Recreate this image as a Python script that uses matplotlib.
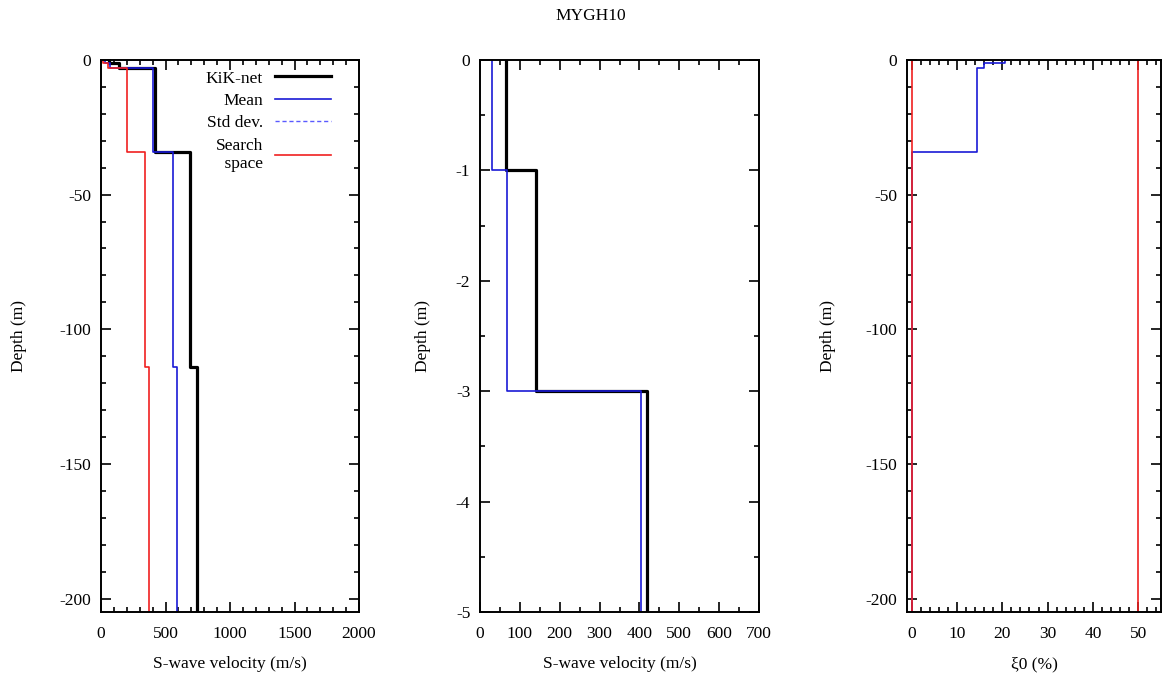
import numpy as np
import matplotlib
matplotlib.use("Agg")
import matplotlib.pyplot as plt
from matplotlib.lines import Line2D
from matplotlib.ticker import MultipleLocator

plt.rcParams["font.family"] = ["Liberation Serif", "DejaVu Serif"]
plt.rcParams["font.size"] = 12.5
plt.rcParams["axes.unicode_minus"] = False

station = "MYGH10"

# Layer interfaces (m, negative downwards); last value is the half-space bottom
layer_bounds = [0, -1, -3, -34, -114, -210]

# S-wave velocity per layer (m/s)
vs_kiknet = [65, 140, 418, 690, 745]
vs_mean = [30, 67, 405, 556, 592]
vs_search_low = [15, 55, 199, 341, 370]

# Small-strain damping per layer (%)
xi_mean = [20.5, 16.0, 14.5, 0.0, 0.0]
xi_search_low = [0.2, 0.2, 0.2, 0.2, 0.2]
xi_search_high = [50.0, 50.0, 50.0, 50.0, 50.0]

BLUE = "#1a1ad6"
RED = "#f02020"
FS = 12.5


def profile(values, bounds=layer_bounds):
    x = np.repeat(values, 2)
    y = np.repeat(bounds, 2)[1:-1]
    return x, y


W, H = 1164, 677
fig = plt.figure(figsize=(W / 100, H / 100), dpi=100)


def make_axes(left, right, top=60, bottom=612):
    return fig.add_axes([left / W, 1 - bottom / H, (right - left) / W, (bottom - top) / H])


ax1 = make_axes(101, 359)
ax2 = make_axes(480, 759)
ax3 = make_axes(907, 1161)


def style(ax, xmaj, xmin, ymaj, ymin):
    ax.xaxis.set_major_locator(MultipleLocator(xmaj))
    ax.xaxis.set_minor_locator(MultipleLocator(xmin))
    ax.yaxis.set_major_locator(MultipleLocator(ymaj))
    ax.yaxis.set_minor_locator(MultipleLocator(ymin))
    ax.tick_params(which="both", direction="in", top=True, right=True, width=1.2,
                   labelsize=FS)
    ax.tick_params(axis="x", which="both", pad=10)
    ax.tick_params(axis="y", which="both", pad=7)
    ax.tick_params(which="major", length=7)
    ax.tick_params(which="minor", length=3.5)
    for s in ax.spines.values():
        s.set_linewidth(1.4)


# Panel 1: full velocity profile
x, y = profile(vs_kiknet)
ax1.plot(x, y, color="black", lw=2.3, label="KiK-net")
x, y = profile(vs_mean)
ax1.plot(x, y, color=BLUE, lw=1.2, label="Mean")
x, y = profile(vs_search_low)
ax1.plot(x, y, color=RED, lw=1.2)
ax1.set_xlim(0, 2000)
ax1.set_ylim(-205, 0)
style(ax1, 500, 100, 50, 10)
ax1.set_xlabel("S-wave velocity (m/s)")
ax1.set_ylabel("Depth (m)")
ax1.xaxis.set_label_coords(0.5, -0.08)
ax1.yaxis.set_label_coords(-0.285, 0.5)

handles = [
    Line2D([], [], color="black", lw=2.3),
    Line2D([], [], color=BLUE, lw=1.2),
    Line2D([], [], color="#5a5aff", lw=1.0, ls=(0, (3, 2))),
    Line2D([], [], color=RED, lw=1.2),
]
labels = ["KiK-net", "Mean", "Std dev.", "Search\n    space"]
leg = ax1.legend(handles, labels, loc="upper right", bbox_to_anchor=(0.93, 1.0),
                 frameon=False, markerfirst=False, handlelength=3.2,
                 handletextpad=0.7, labelspacing=0.36, borderaxespad=0.2,
                 fontsize=FS)
for t in leg.get_texts():
    t.set_ha("right")
    t.set_multialignment("right")
leg._legend_box.align = "right"

# Panel 2: top 5 m
x, y = profile(vs_kiknet)
ax2.plot(x, y, color="black", lw=2.3)
x, y = profile(vs_mean)
ax2.plot(x, y, color=BLUE, lw=1.2)
ax2.set_xlim(0, 700)
ax2.set_ylim(-5, 0)
style(ax2, 100, 50, 1, 0.5)
ax2.set_xlabel("S-wave velocity (m/s)")
ax2.set_ylabel("Depth (m)")
ax2.xaxis.set_label_coords(0.5, -0.08)
ax2.yaxis.set_label_coords(-0.175, 0.5)

# Panel 3: damping
x, y = profile(xi_mean)
ax3.plot(x, y, color=BLUE, lw=1.2)
x, y = profile(xi_search_low)
ax3.plot(x, y, color=RED, lw=1.2)
x, y = profile(xi_search_high)
ax3.plot(x, y, color=RED, lw=1.2)
ax3.set_xlim(-1, 55)
ax3.set_ylim(-205, 0)
style(ax3, 10, 2, 50, 10)
ax3.set_xlabel("ξ0 (%)")
ax3.set_ylabel("Depth (m)")
ax3.xaxis.set_label_coords(0.5, -0.08)
ax3.yaxis.set_label_coords(-0.28, 0.5)

fig.text(591 / W, 1 - 16 / H, station, ha="center", va="center", fontsize=FS)

fig.savefig("out.png", dpi=100, facecolor="white")
